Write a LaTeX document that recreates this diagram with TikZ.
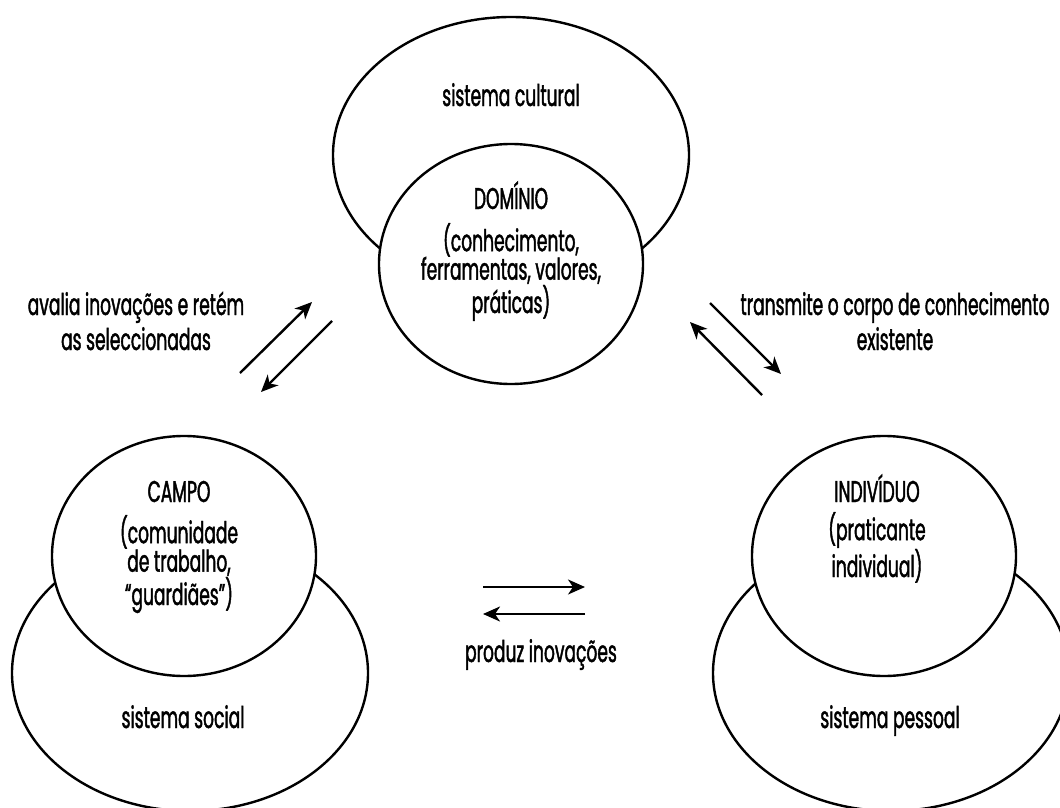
\documentclass[tikz,border=0pt]{standalone}
\usepackage{fontspec}
\setmainfont{Poppins}[FakeStretch=0.57,FakeBold=1.4]
\usetikzlibrary{shapes.geometric,arrows.meta}
\begin{document}
\begin{tikzpicture}[x=1pt,y=-1pt,
  outer/.style={ellipse,draw,line width=2.4pt,minimum width=356pt,minimum height=276pt,inner sep=0pt},
  inner/.style={ellipse,draw,fill=white,line width=2.4pt,minimum width=264pt,minimum height=240pt,inner sep=0pt},
  lbl/.style={align=center,font=\fontsize{30}{28.5}\selectfont,inner sep=0pt,anchor=base},
  side/.style={align=center,font=\fontsize{30}{35}\selectfont,inner sep=0pt,anchor=base},
  flow/.style={line width=2.4pt,-{Stealth[length=17pt,width=15pt,inset=5pt]}}]
\useasboundingbox (0,0) rectangle (1060,808);
\clip (0,0) rectangle (1060,808);

% the three systems, each with its inner circle
\node[outer] (cultural) at (511,155) {};
\node[inner] (dominio) at (511,264) {};
\node[outer] (social) at (190,673) {};
\node[inner] (campo) at (184,556) {};
\node[outer] (pessoal) at (891,673) {};
\node[inner] (individuo) at (884,556) {};

% labels (multi-line nodes sit on the baseline of their last line)
\node[lbl] (tcultural) at (511,106) {sistema cultural};
\node[lbl] (tdominio) at (511,209) {DOMÍNIO};
\node[lbl] (ddominio) at (511,313) {(conhecimento,\\ferramentas, valores,\\práticas)};
\node[lbl] (tcampo) at (179,502) {CAMPO};
\node[lbl] (dcampo) at (179,605) {(comunidade\\de trabalho,\\“guardiães”)};
\node[lbl] (tindividuo) at (877,502) {INDIVÍDUO};
\node[lbl] (dindividuo) at (877,577) {(praticante\\individual)};
\node[lbl] (tsocial) at (183,728) {sistema social};
\node[lbl] (tpessoal) at (890,728) {sistema pessoal};

\node[side] (avalia) at (136,350) {avalia inovações e retém\\as seleccionadas};
\node[side] (transmite) at (895,350) {transmite o corpo de conhecimento\\existente};
\node[side] (produz) at (541,662) {produz inovações};

% arrow end points
\coordinate (l1s) at (240,373); \coordinate (l1e) at (312,302);
\coordinate (l2s) at (332,321); \coordinate (l2e) at (261,392);
\coordinate (r1s) at (710,303); \coordinate (r1e) at (781,374);
\coordinate (r2s) at (762,395); \coordinate (r2e) at (690,322);
\coordinate (b1s) at (483,587); \coordinate (b1e) at (585,587);
\coordinate (b2s) at (585,614); \coordinate (b2e) at (483,614);

\draw[flow] (l1s) -- (l1e);
\draw[flow] (l2s) -- (l2e);
\draw[flow] (r1s) -- (r1e);
\draw[flow] (r2s) -- (r2e);
\draw[flow] (b1s) -- (b1e);
\draw[flow] (b2s) -- (b2e);
\end{tikzpicture}
\end{document}
